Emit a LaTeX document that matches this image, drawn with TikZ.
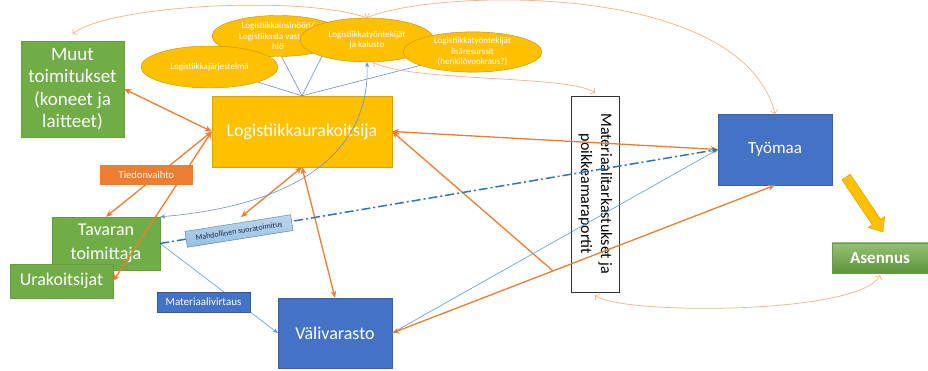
\documentclass[tikz,border=0pt]{standalone}
\usepackage{fontspec}
\usepackage{graphicx}
\usepackage{xcolor}
\setmainfont{Carlito}
\usetikzlibrary{arrows.meta,shapes.geometric}
\definecolor{ppgreen}{HTML}{70AD47}
\definecolor{ppgold}{HTML}{FFC000}
\definecolor{pporange}{HTML}{ED7D31}
\definecolor{pplightorange}{HTML}{F4B183}
\definecolor{ppblue}{HTML}{4472C4}
\definecolor{ppsky}{HTML}{5B9BD5}
\definecolor{ppdashblue}{HTML}{2E75B6}
\definecolor{ppnavy}{HTML}{1F2D50}
\tikzset{
    green-box/.style = {rectangle, fill=ppgreen, draw=ppgreen!90!black, thin, text=white, align=center, inner sep=0pt},
    gold-box/.style = {rectangle, fill=ppgold, draw=ppgold!85!black, thin, text=white, align=center, inner sep=0pt},
    blue-box/.style = {rectangle, fill=ppblue, draw=ppblue!85!black, thin, text=white, align=center, inner sep=0pt},
    check-box/.style = {rectangle, fill=white, draw=black!80, thin, text=black, inner sep=0pt},
    gold-ellipse/.style = {ellipse, fill=ppgold, draw=ppgold!75!black, thin, text=white, align=center, inner sep=0pt, font=\fontsize{9}{10.5}\selectfont},
    tag-box/.style = {rectangle, inner sep=0pt, minimum width=93pt, minimum height=20pt},
    flow-arrow/.style = {draw=pporange, line width=1.3pt, >={Stealth[length=7pt,width=6pt]}},
    loop-arrow/.style = {draw=pplightorange, line width=0.7pt, >={Straight Barb[length=3pt,width=7pt]}},
    material-arrow/.style = {draw=ppsky, line width=0.6pt, >={Stealth[length=5pt,width=4pt]}},
    direct-arrow/.style = {draw=ppdashblue, line width=1.5pt, dash pattern=on 9pt off 3pt on 2pt off 3pt, >={Stealth[length=6pt,width=5pt]}},
    info-line/.style = {draw=ppblue!80, line width=0.6pt, >={Stealth[length=5pt,width=4pt]}},
}

\begin{document}
\begin{tikzpicture}[x=1pt, y=-1pt]
\useasboundingbox (0,0) rectangle (928,371);

% boxes
\node [green-box, minimum width=103pt, minimum height=96pt, font=\fontsize{19}{22.5}\selectfont] (muut) at (72.5,89) {Muut\\toimitukset\\(koneet ja\\laitteet)};
\node [gold-box, minimum width=180pt, minimum height=71pt, font=\fontsize{18}{22}\selectfont] (logurak) at (302,131.5) {Logistiikkaurakoitsija};
\node [green-box, minimum width=108pt, minimum height=53pt, font=\fontsize{18}{24}\selectfont] (tavaran) at (106,243.5) {Tavaran\\toimittaja};
\node [green-box, minimum width=103pt, minimum height=34pt, font=\fontsize{18}{22}\selectfont] (urak) at (61.5,281) {Urakoitsijat};
\node [blue-box, minimum width=114pt, minimum height=70pt, font=\fontsize{18}{22}\selectfont] (vali) at (335,333) {Välivarasto};
\node [blue-box, minimum width=114pt, minimum height=71pt, font=\fontsize{17}{20}\selectfont] (tyomaa) at (775,149.5) {Työmaa};
\node [green-box, minimum width=96pt, minimum height=30pt, top color=ppgreen!75!white, bottom color=ppgreen!85!black, font=\bfseries\fontsize{17}{20}\selectfont] (asennus) at (880,258) {Asennus};
\node [check-box, minimum width=48pt, minimum height=196pt] (tark) at (595,194) {\rotatebox{-90}{\fontsize{16}{20}\selectfont\begin{tabular}{@{}c@{}}Materiaalitarkastukset ja\\poikkeamaraportit\end{tabular}}};

% resources
\node [gold-ellipse, minimum width=132pt, minimum height=41pt] (insinoori) at (278,36) {Logistiikkainsinööri/\\Logistiikasta vastaava\\hlö};
\node [gold-ellipse, minimum width=137pt, minimum height=42pt] (jarjestelma) at (209.5,67) {Logistiikkajärjestelmä};
\node [gold-ellipse, minimum width=134pt, minimum height=44pt] (kalusto) at (367,40) {Logistiikkatyöntekijät\\ja kalusto};
\node [gold-ellipse, minimum width=139pt, minimum height=40pt] (lisa) at (472.5,52) {Logistiikkatyöntekijät\\lisäresurssit\\(henkilövuokraus?)};

\draw [fill=ppgold, draw=ppgold!80!black] (841.8,179.75) -- (850.2,174.25) -- (880.6,219.25) -- (884.75,216.5) -- (883,232) -- (868.05,227.5) -- (872.2,224.75) -- cycle;

\draw [info-line] (logurak.north) -- (jarjestelma);
\draw [info-line] (logurak.north) -- (insinoori.280);
\draw [info-line] (logurak.north) -- (kalusto.200);
\draw [info-line] (logurak.north) -- (lisa);

% flows
\coordinate (suora) at (241,217);
\draw [flow-arrow, <->] (muut.east) -- (logurak.west);
\draw [flow-arrow, <->] (logurak.west) -- (tavaran.north);
\draw [flow-arrow, <->] (logurak.west) -- (urak.east);
\draw [flow-arrow, <->] (logurak.south) -- (suora);
\draw [flow-arrow, <->] (logurak.south) -- (vali.north);
\draw [flow-arrow, <->] (logurak.east) -- (tyomaa.west);
\draw [flow-arrow, <->] (vali.east) -- coordinate[pos=0.42] (meet) (tyomaa.south);
\draw [flow-arrow, <-] (logurak.east) -- (meet);

\draw [material-arrow, ->] (tavaran.east) -- (vali.west);
\draw [material-arrow, ->] (vali.east) -- (tyomaa.west);
\draw [direct-arrow, ->] (tavaran.east) -- (tyomaa.west);
\draw [info-line, <->] (kalusto.south) .. controls (370,150) and (300,205) .. (tavaran.north east);

\draw [loop-arrow, <->] ([yshift=7pt]muut.north) .. controls (110,5) and (300,-5) .. (kalusto.north);
\draw [loop-arrow, <->] (kalusto.north) .. controls (430,-10) and (740,-22) .. (tyomaa.north);
\draw [loop-arrow, <->] (kalusto.-75) .. controls (410,82) and (570,75) .. ([yshift=3pt]tark.north);
\draw [loop-arrow, <->] ([yshift=-3pt]tark.south) .. controls (620,315) and (860,315) .. ([yshift=-2pt]asennus.south);

% labels
\node [tag-box, fill=pporange, text=white, font=\fontsize{10.5}{12}\selectfont] (tieto) at (146.5,175) {Tiedonvaihto};
\node [tag-box, minimum width=107pt, minimum height=16pt, top color=ppsky!40!white, bottom color=ppsky!65!white, draw=ppsky!80!black, thin, text=ppnavy, rotate=9, font=\fontsize{8}{10}\selectfont] (suoratoimitus) at (239,231) {Mahdollinen suoratoimitus};
\node [tag-box, fill=ppblue, draw=ppblue!80!black, thin, text=white, font=\fontsize{11}{12}\selectfont] (virtaus) at (203.5,302) {Materiaalivirtaus};
\end{tikzpicture}
\end{document}
